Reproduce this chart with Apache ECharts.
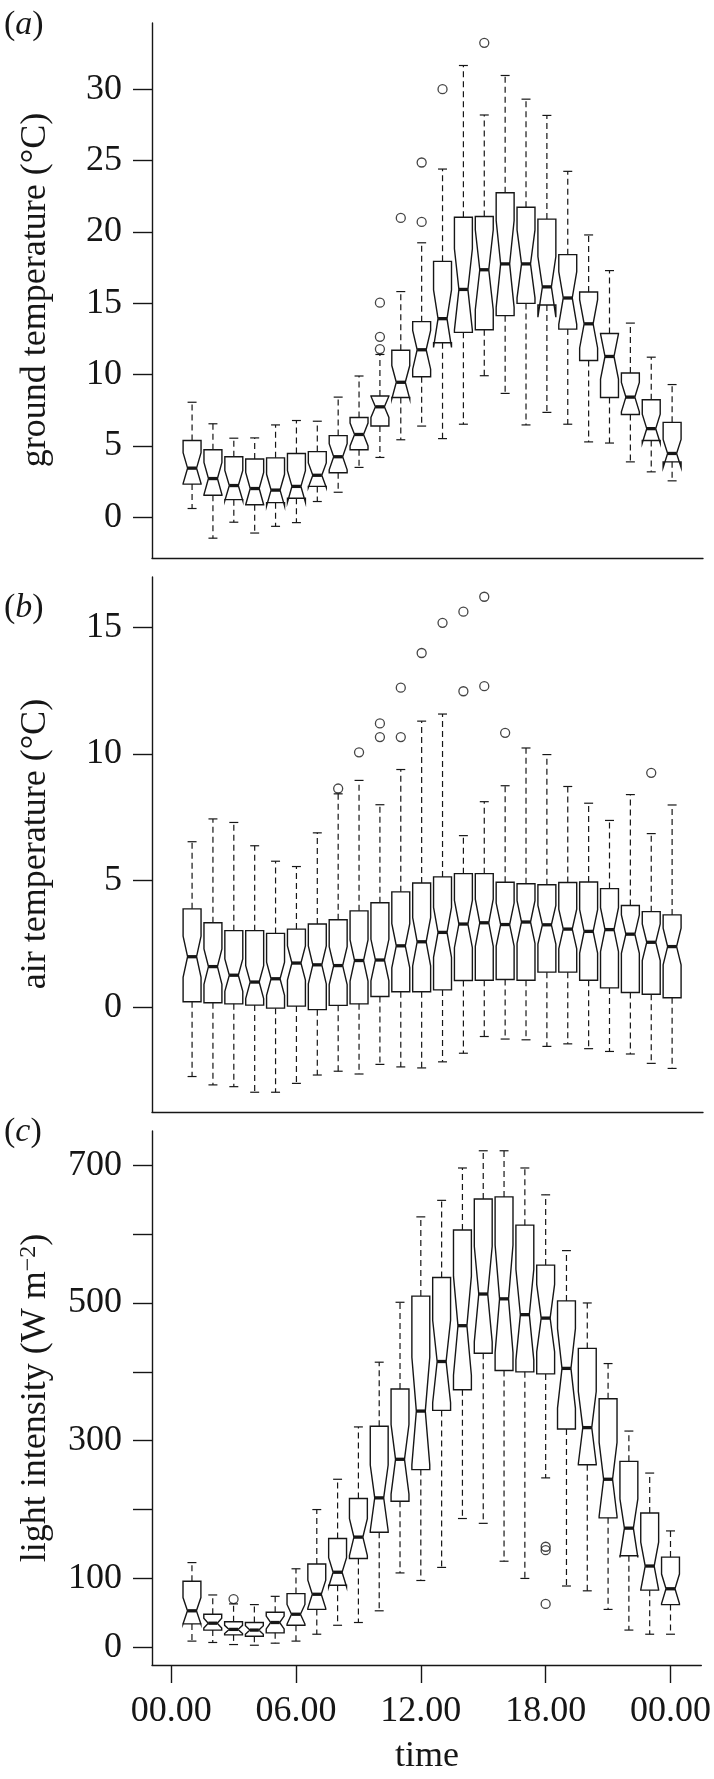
<!DOCTYPE html>
<html><head><meta charset="utf-8">
<script src="https://cdn.jsdelivr.net/npm/echarts@6/dist/echarts.min.js"></script>
<style>html,body{margin:0;padding:0;background:#fff}#c{width:714px;height:1779px}</style>
</head><body><div id="c"></div>
<script>
// ---- data ----
const hours = [1,2,3,4,5,6,7,8,9,10,11,12,13,14,15,16,17,18,19,20,21,22,23,24];
const xTickValues = [0,6,12,18,24];
const xTickLabels = ['00.00','06.00','12.00','18.00','00.00'];

// (a) ground temperature
const groundLow  = [0.6,-1.48,-0.36,-1.12,-0.65,-0.39,1.09,1.74,3.48,4.18,5.42,6.38,5.5,6.51,9.91,8.67,6.46,7.34,6.51,5.27,5.19,3.87,3.17,2.54];
const groundQ1   = [2.31,1.53,1.22,0.86,1.01,1.32,2.15,3.11,4.72,6.38,8.38,9.84,12.22,12.95,13.13,14.12,14.98,14.87,13.18,10.98,8.38,7.19,5.37,3.87];
const groundMed  = [3.43,2.70,2.21,2.0,1.89,2.15,2.93,4.23,5.79,7.73,9.45,11.73,13.91,15.96,17.34,17.75,17.75,16.14,15.36,13.55,11.26,8.41,6.2,4.46];
const groundQ3   = [5.37,4.72,4.23,4.07,4.15,4.46,4.59,5.71,6.98,8.49,11.7,13.7,17.93,21.02,21.07,22.74,21.72,20.89,18.4,15.78,12.87,10.1,8.23,6.64];
const groundHigh = [8.05,6.54,5.53,5.55,6.46,6.77,6.72,8.41,9.89,11.4,15.81,19.23,24.4,31.66,28.19,30.96,29.3,28.16,24.24,19.78,17.28,13.6,11.21,9.29];
const groundOutliers = [[10,15.03],[10,12.64],[10,11.78],[11,20.97],[12,24.86],[12,20.69],[13,30.0],[15,33.25]];
const groundN = 20;
const groundTicks = [0,5,10,15,20,25,30];

// (b) air temperature
const airLow  = [-2.74,-3.07,-3.14,-3.36,-3.36,-3.01,-2.68,-2.53,-2.64,-2.26,-2.36,-2.40,-2.16,-1.82,-1.16,-1.26,-1.29,-1.55,-1.45,-1.64,-1.75,-1.85,-2.22,-2.42];
const airQ1   = [0.21,0.17,0.13,0.08,-0.04,0.04,-0.10,0.07,0.13,0.42,0.61,0.61,0.68,1.05,1.06,1.09,1.06,1.38,1.38,1.06,0.76,0.58,0.51,0.37];
const airMed  = [1.99,1.60,1.26,0.99,1.12,1.74,1.67,1.64,1.84,1.86,2.42,2.58,2.95,3.28,3.33,3.26,3.36,3.25,3.08,2.99,3.06,2.88,2.56,2.39];
const airQ3   = [3.88,3.33,3.02,3.02,2.91,3.08,3.28,3.45,3.80,4.12,4.55,4.90,5.14,5.27,5.27,4.93,4.87,4.83,4.92,4.94,4.68,4.01,3.77,3.64];
const airHigh = [6.53,7.43,7.29,6.37,5.76,5.55,6.88,8.42,8.95,7.99,9.38,11.29,11.57,6.77,8.11,8.74,10.23,9.97,8.71,8.05,7.37,8.39,6.85,7.98];
const airOutliers = [[8,8.63],[9,10.06],[10,11.2],[10,10.66],[11,12.61],[11,10.66],[12,13.98],[13,15.17],[14,15.61],[14,12.47],[15,16.2],[15,12.67],[16,10.83],[23,9.25]];
const airN = 51;
const airTicks = [0,5,10,15];

// (c) light intensity
const lightLow  = [9,7,4,3,6,9,19,32,36,53,108,97,116,187,180,125,100,246,89,82,55,25,19,19];
const lightQ1   = [34,25,18,16,21,32,55,90,129,167,212,258,344,374,427,402,400,397,317,265,188,133,83,62];
const lightMed  = [53,35,26,25,36,48,77,109,160,217,273,343,415,467,513,506,483,478,405,319,244,173,118,85];
const lightQ3   = [96,48,37,36,51,78,121,158,216,321,375,510,537,606,651,654,613,555,503,434,361,270,195,131];
const lightHigh = [123,76,63,62,74,114,200,244,320,414,501,625,649,696,721,721,696,657,576,500,412,314,253,169];
const lightOutliers = [[3,70],[18,146],[18,141],[18,63]];
const lightN = 26;
const lightTicks = [0,100,200,300,400,500,600,700];
const lightTickLabels = [0,100,300,500,700];

// ---- styling ----
const INK = '#161616';
const FONT = '"Liberation Serif", "DejaVu Serif", serif';
const FS = 36;

const panels = [
  {low:groundLow,q1:groundQ1,med:groundMed,q3:groundQ3,high:groundHigh,out:groundOutliers,n:groundN,ticks:groundTicks,labels:groundTicks,min:-2.87,max:34.64,top:23,h:535},
  {low:airLow,q1:airQ1,med:airMed,q3:airQ3,high:airHigh,out:airOutliers,n:airN,ticks:airTicks,labels:airTicks,min:-4.14,max:16.98,top:577,h:535},
  {low:lightLow,q1:lightQ1,med:lightMed,q3:lightQ3,high:lightHigh,out:lightOutliers,n:lightN,ticks:lightTicks,labels:lightTickLabels,min:-25.7,max:749.7,top:1131,h:534}
];

const grid=[], xAxis=[], yAxis=[], series=[];
panels.forEach((p,i)=>{
  grid.push({left:152, top:p.top, width:551, height:p.h});
  const isBottom = i===2;
  xAxis.push({
    gridIndex:i, type:'value', min:-0.92, max:25.48,
    axisLine:{show:true,onZero:false,lineStyle:{color:INK,width:1.4}},
    axisTick:{show:isBottom,length:18,customValues:xTickValues,lineStyle:{color:INK,width:1.4}},
    axisLabel:{show:isBottom,customValues:xTickValues,margin:29,fontSize:FS,fontFamily:FONT,color:INK,
      formatter:(v)=>xTickLabels[xTickValues.indexOf(v)]},
    splitLine:{show:false}
  });
  yAxis.push({
    gridIndex:i, type:'value', min:p.min, max:p.max,
    axisLine:{show:true,onZero:false,lineStyle:{color:INK,width:1.4}},
    axisTick:{show:true,length:19,customValues:p.ticks,lineStyle:{color:INK,width:1.4}},
    axisLabel:{show:true,customValues:p.labels,margin:30,fontSize:FS,fontFamily:FONT,color:INK},
    splitLine:{show:false}
  });
  const data = hours.map((h,k)=>[h,p.low[k],p.q1[k],p.med[k],p.q3[k],p.high[k]]);
  const n = p.n;
  series.push({
    type:'custom', xAxisIndex:i, yAxisIndex:i, silent:true,
    data:data, encode:{x:0,y:[1,2,3,4,5]},
    renderItem:(params,api)=>{
      const x=api.value(0), lo=api.value(1), a=api.value(2), m=api.value(3), b=api.value(4), hi=api.value(5);
      const notch = 1.58*(b-a)/Math.sqrt(n);
      const cx = api.coord([x,m])[0];
      const Y = v=>api.coord([x,v])[1];
      const w = api.size([0.43,0])[0];
      const line = (x1,y1,x2,y2,extra)=>({type:'line',shape:{x1,y1,x2,y2},style:Object.assign({stroke:INK,lineWidth:1.2,fill:null},extra||{})});
      const pts = [
        [cx-w,Y(a)],[cx+w,Y(a)],[cx+w,Y(m-notch)],[cx+w/2,Y(m)],[cx+w,Y(m+notch)],
        [cx+w,Y(b)],[cx-w,Y(b)],[cx-w,Y(m+notch)],[cx-w/2,Y(m)],[cx-w,Y(m-notch)]
      ];
      return {type:'group',children:[
        line(cx,Y(b),cx,Y(hi),{lineDash:[6,4]}),
        line(cx,Y(a),cx,Y(lo),{lineDash:[6,4]}),
        line(cx-w/2,Y(hi),cx+w/2,Y(hi)),
        line(cx-w/2,Y(lo),cx+w/2,Y(lo)),
        {type:'polygon',shape:{points:pts},style:{stroke:INK,lineWidth:1.4,fill:'rgba(0,0,0,0)'}},
        line(cx-w/2,Y(m),cx+w/2,Y(m),{lineWidth:3.3})
      ]};
    }
  });
  series.push({
    type:'scatter', xAxisIndex:i, yAxisIndex:i, silent:true,
    data:p.out, symbol:'circle', symbolSize:9,
    itemStyle:{color:'rgba(0,0,0,0)',borderColor:INK,borderWidth:1.3}
  });
});

const titleStyle = (txt,rich)=>({text:txt,fontSize:FS,fontFamily:FONT,fill:INK,align:'center',verticalAlign:'middle',rich:rich});
const letterStyle = (l)=>({text:'({i|'+l+'})',fontSize:34,fontFamily:FONT,fill:INK,verticalAlign:'middle',rich:{i:{fontStyle:'italic',fontSize:34,fontFamily:FONT,fill:INK}}});
const graphic = [
  {type:'text',x:36,y:290,rotation:Math.PI/2,style:titleStyle('ground temperature (°C)')},
  {type:'text',x:36,y:844,rotation:Math.PI/2,style:titleStyle('air temperature (°C)')},
  {type:'text',x:36,y:1398,rotation:Math.PI/2,style:titleStyle('light intensity (W m{sup|−2})',
     {sup:{fontSize:24,fontFamily:FONT,fill:INK,verticalAlign:'top',padding:[0,0,14,0]}})},
  {type:'text',x:427,y:1757,style:titleStyle('time')},
  {type:'text',x:4,y:25,style:letterStyle('a')},
  {type:'text',x:4,y:608,style:letterStyle('b')},
  {type:'text',x:4,y:1132,style:letterStyle('c')}
];

const chart = echarts.init(document.getElementById('c'),null,{renderer:'canvas'});
chart.setOption({animation:false,backgroundColor:'#fff',grid,xAxis,yAxis,series,graphic});
</script></body></html>
